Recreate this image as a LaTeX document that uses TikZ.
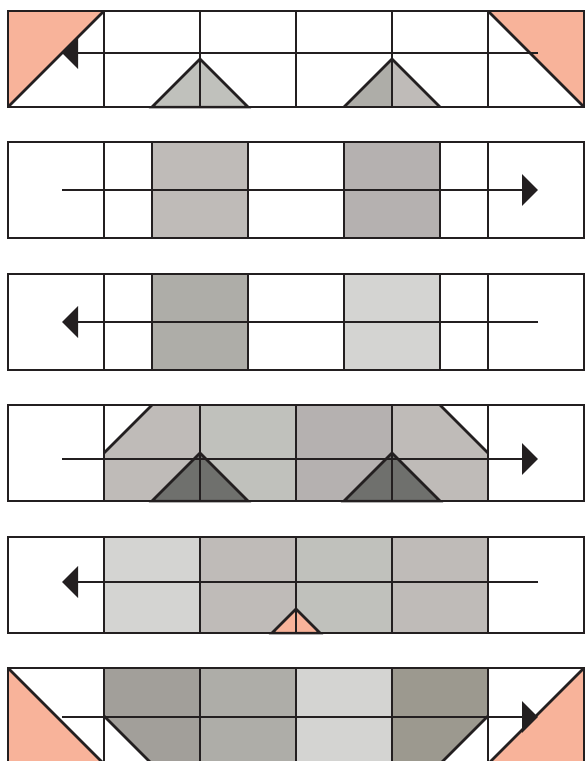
\documentclass[tikz,border=0pt]{standalone}
\usepackage{xcolor}
\usetikzlibrary{arrows.meta}

\definecolor{ink}{HTML}{231F20}
\definecolor{salmon}{HTML}{F8B39A}
\definecolor{warmgray}{HTML}{BFBBB8}
\definecolor{sagegray}{HTML}{C0C1BC}
\definecolor{palegray}{HTML}{D4D4D2}
\definecolor{stonegray}{HTML}{AEADA8}
\definecolor{mauvegray}{HTML}{B5B1B0}
\definecolor{slategray}{HTML}{6F706D}
\definecolor{taupegray}{HTML}{A29F9A}
\definecolor{olivegray}{HTML}{9C998F}

\begin{document}
\begin{tikzpicture}[x=1pt, y=-1pt,
    line style/.style={draw=ink, line width=2.5pt, line join=miter},
    flow/.style={draw=ink, line width=2.5pt,
        -{Triangle[length=16pt, width=31pt]}},
    patch/.style={line style}
]
\useasboundingbox (0,0) rectangle (585,761);
\clip (0,0) rectangle (585,761);

% strip 1
\fill[salmon] (8,11) -- (104,11) -- (8,107) -- cycle;
\fill[salmon] (488,11) -- (584,11) -- (584,107) -- cycle;
\filldraw[patch, fill=sagegray] (152,107) -- (200,59) -- (248,107) -- cycle;
\fill[stonegray] (344,107) -- (392,59) -- (392,107) -- cycle;
\fill[warmgray] (392,59) -- (440,107) -- (392,107) -- cycle;
\draw[line style] (344,107) -- (392,59) -- (440,107);
\draw[line style] (104,11) -- (8,107);
\draw[line style] (488,11) -- (584,107);
\draw[line style] (8,11) rectangle (584,107);
\foreach \x in {104,200,296,392,488}
    \draw[line style] (\x,11) -- (\x,107);
\coordinate (a1s) at (538,53);
\coordinate (a1e) at (62,53);
\draw[flow] (a1s) -- (a1e);

% strip 2
\fill[warmgray] (152,142) rectangle (248,238);
\fill[mauvegray] (344,142) rectangle (440,238);
\draw[line style] (8,142) rectangle (584,238);
\foreach \x in {104,152,248,344,440,488}
    \draw[line style] (\x,142) -- (\x,238);
\coordinate (a2s) at (62,190);
\coordinate (a2e) at (538,190);
\draw[flow] (a2s) -- (a2e);

% strip 3
\fill[stonegray] (152,274) rectangle (248,370);
\fill[palegray] (344,274) rectangle (440,370);
\draw[line style] (8,274) rectangle (584,370);
\foreach \x in {104,152,248,344,440,488}
    \draw[line style] (\x,274) -- (\x,370);
\coordinate (a3s) at (538,322);
\coordinate (a3e) at (62,322);
\draw[flow] (a3s) -- (a3e);

% strip 4
\fill[warmgray] (104,453) -- (152,405) -- (200,405) -- (200,501) -- (104,501) -- cycle;
\fill[sagegray] (200,405) rectangle (296,501);
\fill[mauvegray] (296,405) rectangle (392,501);
\fill[warmgray] (392,405) -- (440,405) -- (488,453) -- (488,501) -- (392,501) -- cycle;
\filldraw[patch, fill=slategray] (152,501) -- (200,453) -- (248,501) -- cycle;
\filldraw[patch, fill=slategray] (344,501) -- (392,453) -- (440,501) -- cycle;
\draw[line style] (152,405) -- (104,453);
\draw[line style] (440,405) -- (488,453);
\draw[line style] (8,405) rectangle (584,501);
\foreach \x in {104,200,296,392,488}
    \draw[line style] (\x,405) -- (\x,501);
\coordinate (a4s) at (62,459);
\coordinate (a4e) at (538,459);
\draw[flow] (a4s) -- (a4e);

% strip 5
\fill[palegray] (104,537) rectangle (200,633);
\fill[warmgray] (200,537) rectangle (296,633);
\fill[sagegray] (296,537) rectangle (392,633);
\fill[warmgray] (392,537) rectangle (488,633);
\filldraw[patch, fill=salmon] (272,633) -- (296,609) -- (320,633) -- cycle;
\draw[line style] (8,537) rectangle (584,633);
\foreach \x in {104,200,296,392,488}
    \draw[line style] (\x,537) -- (\x,633);
\coordinate (a5s) at (538,582);
\coordinate (a5e) at (62,582);
\draw[flow] (a5s) -- (a5e);

% strip 6
\fill[salmon] (8,668) -- (104,764) -- (8,764) -- cycle;
\fill[salmon] (584,668) -- (584,764) -- (488,764) -- cycle;
\fill[taupegray] (104,668) -- (200,668) -- (200,764) -- (152,764) -- (104,716) -- cycle;
\fill[stonegray] (200,668) rectangle (296,764);
\fill[palegray] (296,668) rectangle (392,764);
\fill[olivegray] (392,668) -- (488,668) -- (488,716) -- (440,764) -- (392,764) -- cycle;
\draw[line style] (8,668) -- (104,764);
\draw[line style] (584,668) -- (488,764);
\draw[line style] (104,716) -- (152,764);
\draw[line style] (488,716) -- (440,764);
\draw[line style] (8,668) rectangle (584,764);
\foreach \x in {104,200,296,392,488}
    \draw[line style] (\x,668) -- (\x,764);
\coordinate (a6s) at (62,717);
\coordinate (a6e) at (538,717);
\draw[flow] (a6s) -- (a6e);
\end{tikzpicture}
\end{document}
